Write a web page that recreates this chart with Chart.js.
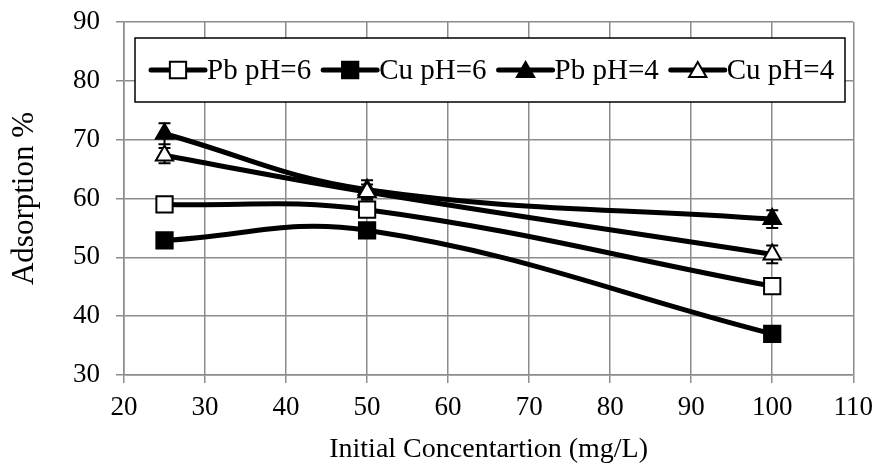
<!DOCTYPE html>
<html>
<head>
<meta charset="utf-8">
<script src="https://cdn.jsdelivr.net/npm/chart.js@4.4.0/dist/chart.umd.min.js"></script>
<style>
  html, body { margin: 0; padding: 0; background: #fff; }
  #wrap { width: 882px; height: 464px; }
</style>
</head>
<body>
<div id="wrap"><canvas id="myChart" width="882" height="464"></canvas></div>
<script>
// Values
const concentrations = [25, 50, 100];
const seriesNames = ['Pb pH=6', 'Cu pH=6', 'Pb pH=4', 'Cu pH=4'];
const pbPH6 = [59.0, 58.1, 45.1];
const cuPH6 = [52.9, 54.6, 37.0];
const pbPH4 = [71.0, 61.5, 56.5];
const cuPH4 = [67.3, 61.1, 50.5];
const pbPH4Err = [1.8, 1.6, 1.5];
const cuPH4Err = [1.3, 1.3, 1.5];
const xTickLabels = [20, 30, 40, 50, 60, 70, 80, 90, 100, 110];
const yTickLabels = [30, 40, 50, 60, 70, 80, 90];

const FONT = "'Liberation Serif', 'Times New Roman', serif";
const GRID = '#8c8c8c';

const toPoints = vals => vals.map((v, i) => ({ x: concentrations[i], y: v }));

function series(label, values, style, filled, radius, order, errors) {
    return {
        label: label,
        data: toPoints(values),
        errors: errors,
        borderColor: '#000',
        borderWidth: 5,
        tension: 0.4,
        pointStyle: style,
        pointRadius: radius,
        pointHoverRadius: radius,
        pointBorderWidth: 2,
        pointBorderColor: '#000',
        pointBackgroundColor: filled ? '#000' : '#fff',
        order: order
    };
}

// error bars, drawn under the lines and markers
const errorBars = {
    id: 'errorBars',
    beforeDatasetsDraw(chart) {
        const ctx = chart.ctx;
        const xs = chart.scales.x, ys = chart.scales.y;
        ctx.save();
        ctx.strokeStyle = '#000';
        ctx.lineWidth = 2;
        chart.data.datasets.forEach(ds => {
            if (!ds.errors) return;
            ds.data.forEach((p, i) => {
                const px = xs.getPixelForValue(p.x);
                const top = ys.getPixelForValue(p.y + ds.errors[i]);
                const bot = ys.getPixelForValue(p.y - ds.errors[i]);
                ctx.beginPath();
                ctx.moveTo(px, top); ctx.lineTo(px, bot);
                ctx.moveTo(px - 6, top); ctx.lineTo(px + 6, top);
                ctx.moveTo(px - 6, bot); ctx.lineTo(px + 6, bot);
                ctx.stroke();
            });
        });
        ctx.restore();
    }
};

// boxed legend inside the plot area
const boxLegend = {
    id: 'boxLegend',
    afterDatasetsDraw(chart) {
        const ctx = chart.ctx;
        const area = chart.chartArea;
        const left = area.left + 11, top = area.top + 16;
        const w = 710, h = 64;
        ctx.save();
        ctx.fillStyle = '#fff';
        ctx.fillRect(left, top, w, h);
        ctx.strokeStyle = '#000';
        ctx.lineWidth = 1.5;
        ctx.strokeRect(left, top, w, h);
        ctx.font = '29px ' + FONT;
        ctx.textBaseline = 'middle';
        const cy = top + h / 2;
        let x = left + 16;
        chart.data.datasets.forEach(ds => {
            ctx.strokeStyle = '#000';
            ctx.lineWidth = 5;
            ctx.lineCap = 'round';
            ctx.beginPath();
            ctx.moveTo(x, cy); ctx.lineTo(x + 54, cy);
            ctx.stroke();
            ctx.lineCap = 'butt';
            ctx.fillStyle = ds.pointBackgroundColor;
            ctx.strokeStyle = '#000';
            ctx.lineWidth = 2;
            Chart.helpers.drawPoint(ctx, {
                pointStyle: ds.pointStyle,
                radius: ds.pointStyle === 'rect' ? 11.5 : 10,
                rotation: 0,
                borderWidth: 2
            }, x + 27, cy + (ds.pointStyle === 'triangle' ? 2 : 0));
            ctx.fillStyle = '#000';
            ctx.fillText(ds.label, x + 56, cy + 1);
            x += 56 + ctx.measureText(ds.label).width + 12;
        });
        ctx.restore();
    }
};

const ctx = document.getElementById('myChart').getContext('2d');
const myChart = new Chart(ctx, {
    type: 'line',
    data: {
        datasets: [
            series(seriesNames[0], pbPH6, 'rect', false, 11.5, 3),
            series(seriesNames[1], cuPH6, 'rect', true, 11.5, 2),
            series(seriesNames[2], pbPH4, 'triangle', true, 10, 1, pbPH4Err),
            series(seriesNames[3], cuPH4, 'triangle', false, 10, 0, cuPH4Err)
        ]
    },
    options: {
        responsive: false,
        animation: false,
        layout: { padding: { top: 22, right: 24, left: 0, bottom: 0 } },
        plugins: {
            legend: { display: false },
            tooltip: { enabled: false }
        },
        scales: {
            x: {
                type: 'linear',
                min: xTickLabels[0],
                max: xTickLabels[xTickLabels.length - 1],
                afterFit: s => { s.height = 89; },
                afterBuildTicks: s => { s.ticks = xTickLabels.map(v => ({ value: v })); },
                grid: { color: GRID, lineWidth: 1.5, tickLength: 8, tickColor: GRID },
                border: { color: GRID, width: 1.5 },
                ticks: { color: '#000', font: { family: FONT, size: 27 }, padding: 9, maxRotation: 0 },
                title: {
                    display: true,
                    text: 'Initial Concentartion (mg/L)',
                    color: '#000',
                    font: { family: FONT, size: 28 },
                    padding: { top: 4, bottom: -2 }
                }
            },
            y: {
                min: yTickLabels[0],
                max: yTickLabels[yTickLabels.length - 1],
                afterFit: s => { s.width = 124; s.paddingTop = 10; s.paddingBottom = 10; },
                ticks: {
                    stepSize: 5,
                    color: '#000',
                    font: { family: FONT, size: 27 },
                    padding: 16,
                    callback: v => yTickLabels.includes(v) ? v : ''
                },
                grid: {
                    color: GRID,
                    lineWidth: 1.5,
                    tickLength: 8,
                    tickColor: c => yTickLabels.includes(c.tick.value) ? GRID : 'rgba(0,0,0,0)'
                },
                border: { color: GRID, width: 1.5 },
                title: {
                    display: true,
                    text: 'Adsorption %',
                    color: '#000',
                    font: { family: FONT, size: 31 },
                    padding: { top: 6, bottom: 0 }
                }
            }
        }
    },
    plugins: [errorBars, boxLegend]
});
</script>
</body>
</html>
